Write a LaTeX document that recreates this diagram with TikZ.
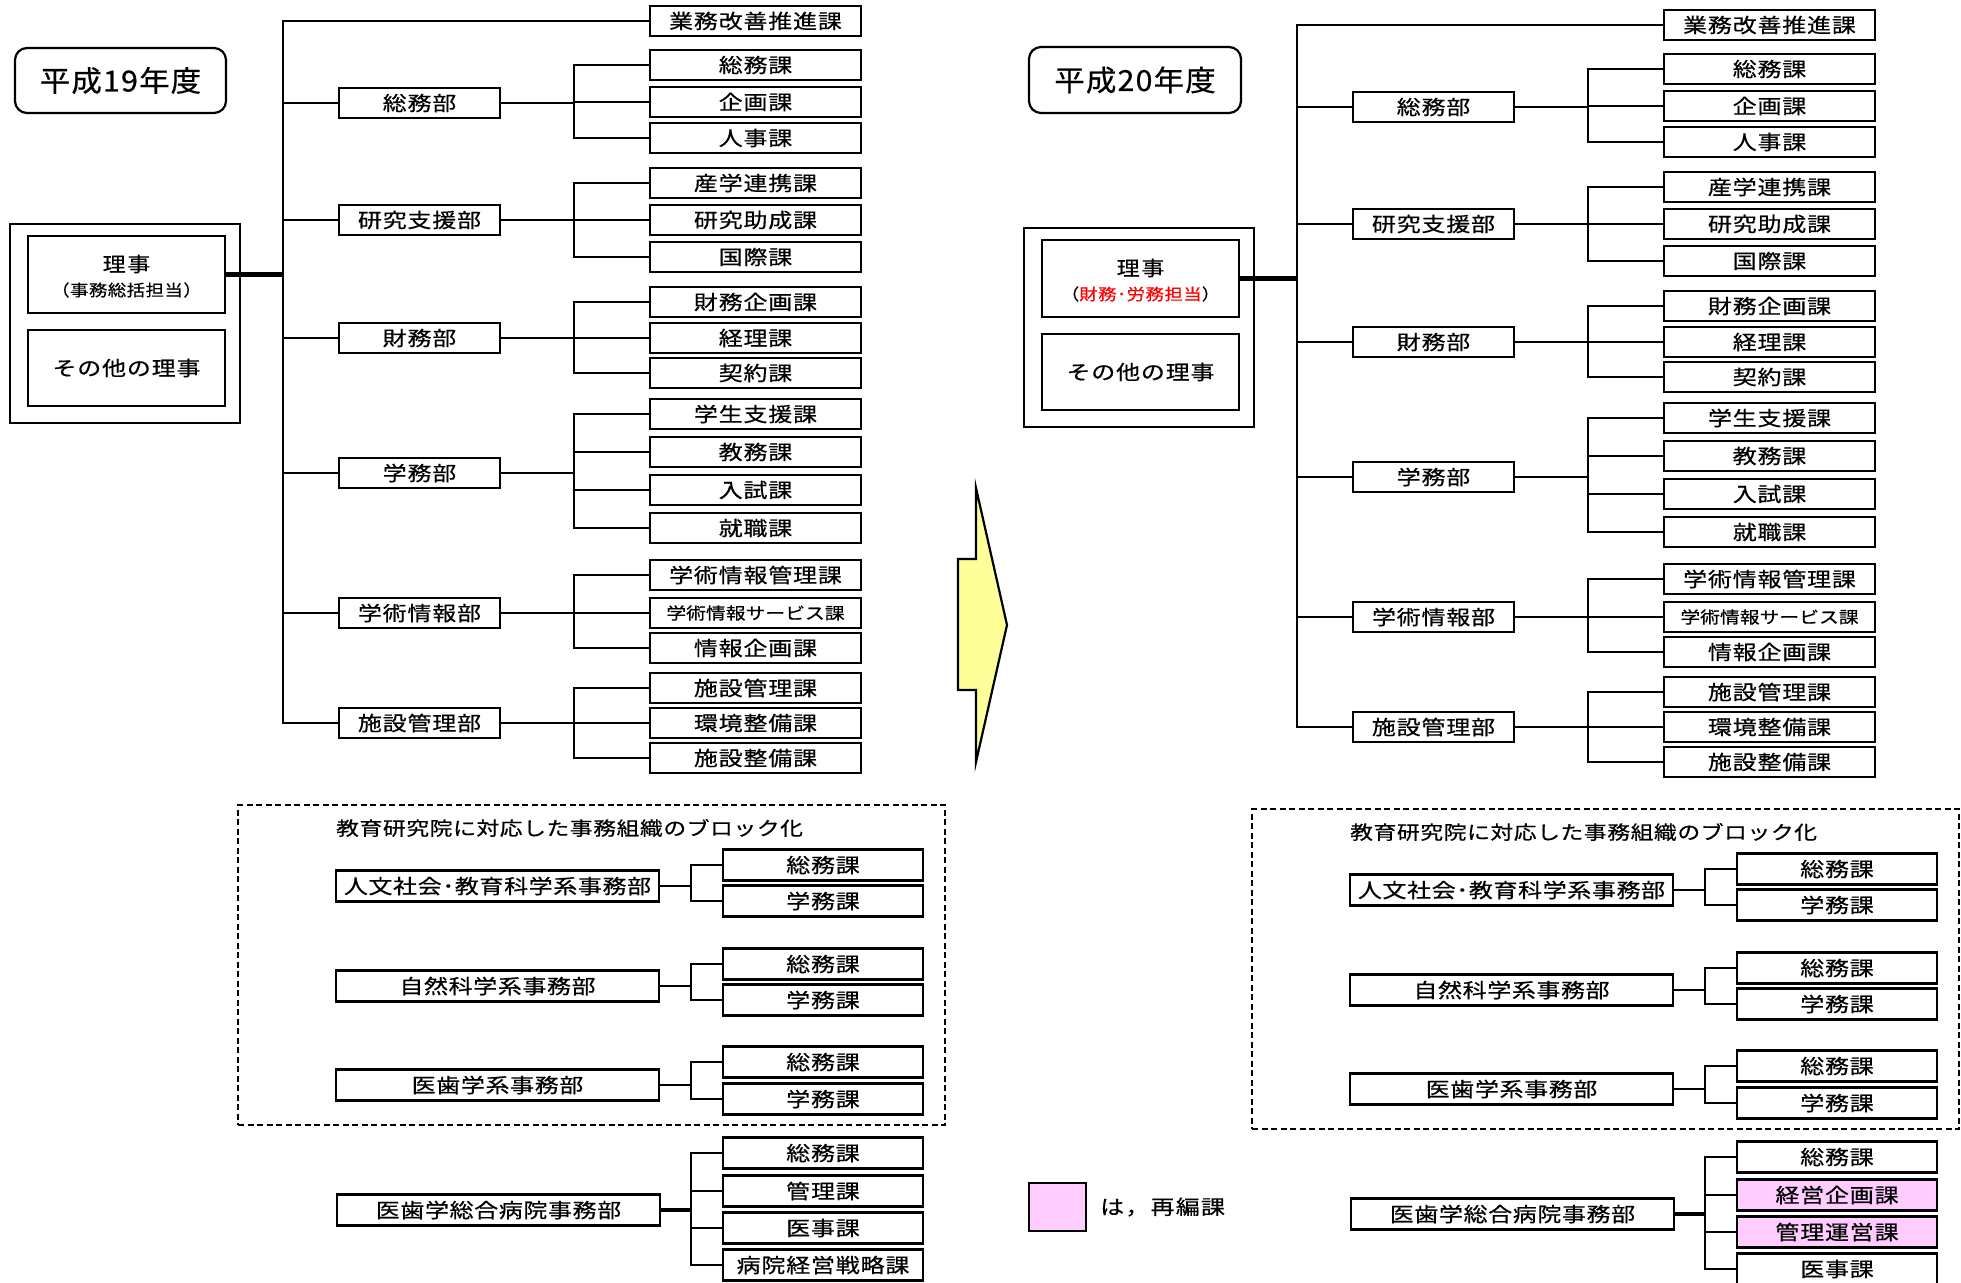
\documentclass[tikz,border=0pt]{standalone}
\usepackage{fontspec}
\newfontfamily\jp{Noto Sans CJK JP}
\newcommand\jpst[3]{\jp\addfontfeatures{LetterSpace=#3,FakeStretch=#1,FakeBold=0.5}\fontsize{#2}{#2}\selectfont}
\newcommand\jpsz[2]{\jpst{1.2}{#1}{#2}}
\definecolor{pinkfill}{HTML}{FFCCFF}
\definecolor{arrowfill}{HTML}{FFFF99}
\tikzset{
  bx/.style={draw, line width=2.2pt, inner sep=0pt, outer sep=0pt},
  secbox/.style={bx, minimum width=211pt, minimum height=30pt, font=\jpsz{20}{4}},
  deptbox/.style={bx, minimum width=161pt, minimum height=30pt, font=\jpsz{20}{4}},
  ldept/.style={bx, minimum width=323pt, minimum height=31pt, font=\jpsz{20}{3}},
  lsec/.style={bx, minimum width=200pt, minimum height=31pt, font=\jpsz{20}{4}},
  ln/.style={line width=2.2pt},
  thk/.style={line width=4.5pt},
}
\newcommand\Sec[3]{%
  \node[secbox] (#1) at (755.5,#2) {#3};
  \coordinate (#1-b) at (574,#2);
  \draw[ln] (#1-b) -- (#1.west);}
\newcommand\Grp[5]{%
  \node[deptbox] (#1) at (419.5,#2) {#3};
  \coordinate (#1-t) at (283,#2);
  \coordinate (#1-b) at (574,#2);
  \draw[ln] (#1-t) -- (#1.west);
  \draw[ln] (#1.east) -- (#1-b);
  \draw[ln, line cap=rect] (#4-b) -- (#5-b);}
\newcommand\LSub[4][]{%
  \node[lsec,#1] (#2) at (823,#3) {#4};
  \coordinate (#2-b) at (691,#3);
  \draw[ln] (#2-b) -- (#2.west);}
\newcommand\LBlk[5]{%
  \node[ldept] (#1) at (497.5,#2) {#3};
  \coordinate (#1-b) at (691,#2);
  \draw[ln] (#1.east) -- (#1-b);
  \LSub{#1s1}{#4}{総務課}
  \LSub{#1s2}{#5}{学務課}
  \draw[ln, line cap=rect] (#1s1-b) -- (#1s2-b);}
\newcommand\PanelBody[1]{%
  \coordinate (trunk-top) at (283,21);
  \coordinate (trunk-bot) at (283,723);
  \node[secbox] (kaizen) at (755.5,21) {業務改善推進課};
  \draw[ln, line cap=rect] (trunk-bot) -- (trunk-top);
  \draw[ln] (trunk-top) -- (kaizen.west);
  \node[bx, minimum width=230pt, minimum height=199pt] (exec) at (125,323.5) {};
  \node[bx, minimum width=197pt, minimum height=77pt] (riji) at (126.5,274.5) {};
  \node[font={\jpst{1.15}{20}{8}}, inner sep=0pt] (riji-a) at (126.5,264) {理事};
  \node[font={\jpst{1.15}{16}{3}}, inner sep=0pt] (riji-b) at (126.5,290) {#1};
  \node[bx, minimum width=197pt, minimum height=76pt, font=\jpsz{20}{4}] (others) at (126.5,368) {その他の理事};
  \coordinate (riji-t) at (283,274.5);
  \draw[thk] (riji.east) -- (riji-t);
  \Sec{s11}{65}{総務課}\Sec{s12}{102}{企画課}\Sec{s13}{138}{人事課}
  \Grp{g1}{103}{総務部}{s11}{s13}
  \Sec{s21}{183}{産学連携課}\Sec{s22}{220}{研究助成課}\Sec{s23}{257}{国際課}
  \Grp{g2}{220}{研究支援部}{s21}{s23}
  \Sec{s31}{302}{財務企画課}\Sec{s32}{338}{経理課}\Sec{s33}{373}{契約課}
  \Grp{g3}{338}{財務部}{s31}{s33}
  \Sec{s41}{414}{学生支援課}\Sec{s42}{452}{教務課}\Sec{s43}{490}{入試課}\Sec{s44}{528}{就職課}
  \Grp{g4}{473}{学務部}{s41}{s44}
  \Sec{s51}{575}{学術情報管理課}
  \node[secbox, font=\jpsz{16.5}{0}] (s52) at (755.5,613) {学術情報サービス課};
  \coordinate (s52-b) at (574,613);
  \draw[ln] (s52-b) -- (s52.west);
  \Sec{s53}{648}{情報企画課}
  \Grp{g5}{613}{学術情報部}{s51}{s53}
  \Sec{s61}{688}{施設管理課}\Sec{s62}{723}{環境整備課}\Sec{s63}{758}{施設整備課}
  \Grp{g6}{723}{施設管理部}{s61}{s63}
  \node[draw, line width=2pt, dash pattern=on 6pt off 3.5pt, minimum width=707pt, minimum height=320pt, inner sep=0pt] (block) at (591.5,965) {};
  \node[anchor=west, inner sep=0pt, font=\jpsz{19}{3}] (block-title) at (336,828) {教育研究院に対応した事務組織のブロック化};
  \LBlk{h}{886}{人文社会･教育科学系事務部}{865}{901}
  \LBlk{n}{986}{自然科学系事務部}{964}{1000}
  \LBlk{m}{1085}{医歯学系事務部}{1062}{1099}
  \node[ldept] (hosp) at (498.5,1210) {医歯学総合病院事務部};
  \coordinate (hosp-b) at (691,1210);
  \draw[thk] (hosp.east) -- (hosp-b);
}
\begin{document}
\begin{tikzpicture}[x=1pt, y=-1pt]
\useasboundingbox (0,0) rectangle (1961,1282);
\fill[white] (0,0) rectangle (1961,1282);
\clip (0,0) rectangle (1961,1282);
% year labels
\node[bx, rounded corners=12pt, minimum width=211pt, minimum height=65pt, font={\jpst{1.05}{29}{4}}] (yearL) at (120.5,80.5) {平成19年度};
\node[bx, rounded corners=12pt, minimum width=212pt, minimum height=66pt, font={\jpst{1.05}{29}{4}}] (yearR) at (1135,80) {平成20年度};
% left panel
\begin{scope}[name prefix=L-]
  \PanelBody{（事務総括担当）}
  \LSub{p1}{1153}{総務課}
  \LSub{p2}{1191}{管理課}
  \LSub{p3}{1228}{医事課}
  \LSub{p4}{1265}{病院経営戦略課}
  \draw[ln, line cap=rect] (p1-b) -- (p4-b);
\end{scope}
% right panel
\begin{scope}[shift={(1014,4)}, name prefix=R-]
  \PanelBody{（\textcolor{red}{財務･労務担当}）}
  \LSub{p1}{1153}{総務課}
  \LSub[fill=pinkfill]{p2}{1191}{経営企画課}
  \LSub[fill=pinkfill]{p3}{1228}{管理運営課}
  \LSub{p4}{1265}{医事課}
  \draw[ln, line cap=rect] (p1-b) -- (p4-b);
\end{scope}
% transition arrow
\draw[line width=2.2pt, fill=arrowfill, line join=miter] (958,559) -- (976,559) -- (976,488) -- (1007,625) -- (976,762) -- (976,690) -- (958,690) -- cycle;
% legend
\node[bx, line width=2pt, fill=pinkfill, minimum width=57pt, minimum height=48pt] (legbox) at (1057.5,1207) {};
\node[anchor=west, inner sep=0pt, font=\jpsz{20}{6}] (legtxt) at (1100,1207) {は，再編課};
\end{tikzpicture}
\end{document}
